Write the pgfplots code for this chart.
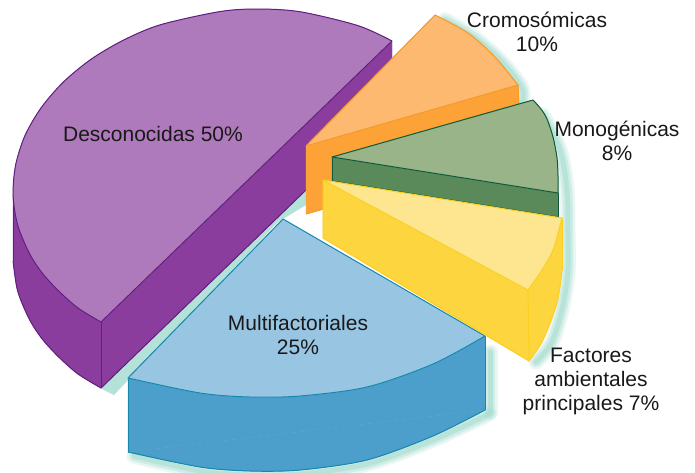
\documentclass[border=0pt]{standalone}
\usepackage{pgfplots}
\pgfplotsset{compat=1.18}
\usepackage{fontspec}
\setmainfont{Liberation Sans}
\definecolor{pt}{HTML}{AF7ABB}\definecolor{ps}{HTML}{8A3D9C}\definecolor{pe}{HTML}{5F1F80}
\definecolor{ot}{HTML}{FDB96F}\definecolor{os}{HTML}{FDA236}\definecolor{oe}{HTML}{F39A2B}
\definecolor{gt}{HTML}{98B488}\definecolor{gs}{HTML}{5A8A5A}\definecolor{ge}{HTML}{0E5A3A}
\definecolor{yt}{HTML}{FDE68F}\definecolor{ys}{HTML}{FDD63F}\definecolor{ye}{HTML}{FBCF20}
\definecolor{bt}{HTML}{98C6E2}\definecolor{bs}{HTML}{4C9ECB}\definecolor{be}{HTML}{1688B0}
\definecolor{sh}{HTML}{A8DDD2}
% fill, edge, arc coordinates, straight coordinates
\newcommand\face[4]{%
  \addplot[smooth,fill=#1,draw=#1,line width=.3pt] coordinates {#3} --cycle;
  \addplot[fill=#1,draw=#1,line width=.3pt] coordinates {#4} --cycle;
  \addplot[smooth,draw=#2,line width=1pt] coordinates {#3};
  \addplot[draw=#2,line width=1pt] coordinates {#4};
}
% fill, edge, arc coordinates, polygon coordinates: outlines are drawn apart
\newcommand\side[4]{%
  \addplot[smooth,fill=#1,draw=#1,line width=.3pt] coordinates {#3} --cycle;
  \addplot[fill=#1,draw=#1,line width=.3pt] coordinates {#4} --cycle;
  \addplot[smooth,draw=#2,line width=1pt] coordinates {#3};
}
\newcommand\edge[2]{\addplot[draw=#1,line width=1pt] coordinates {#2};}
\newcommand\shadow[1]{%
  \addplot[smooth,draw=sh,line width=15pt,opacity=.25,line cap=round] coordinates {#1};
  \addplot[smooth,draw=sh,line width=10pt,opacity=.4,line cap=round] coordinates {#1};
  \addplot[smooth,draw=sh,line width=5pt,opacity=.6,line cap=round] coordinates {#1};
}
\begin{document}
\begin{tikzpicture}
\begin{axis}[at={(0,0)},anchor=south west,width=695pt,height=472pt,scale only axis,
  xmin=0,xmax=695,ymin=0,ymax=472,y dir=reverse,hide axis,no marks,
  every axis plot/.append style={line join=round}]
\addplot[fill=white,draw=none] coordinates {(0,0)(695,0)(695,472)(0,472)} --cycle;
% shadows
\shadow{(134,456)(200,471)(250,475)(300,474)(367,464)(433,440)(489,414)}
\shadow{(490,352)(490,380)(490,412)}
\shadow{(536,362)(552,342)(563,305)(568,270)(568,235)(567,190)(560,150)(543,115)}
\shadow{(445,20)(475,38)(502,62)(522,88)(522,104)}
\addplot[fill=sh,draw=none,opacity=.85] coordinates {(100,388)(114,395)(130,378)(278,222)(306,205)(306,185)} --cycle;
% purple
\side{ps}{pe}{(13.1,261)(17.6,290.8)(29.2,319)(42.2,339)(58.7,357)(78,374)(101,388)}{(13.1,195)(13.1,261)(101,388)(392,107)(392,41)}
\edge{pe}{(13.1,195)(13.1,261)}
\edge{pe}{(101,388)(392,107)}
\face{pt}{pe}{(392,41)(358.2,25.7)(301,11.9)(259,9)(220.3,11.5)(161,24.6)(124.7,39.5)(92,58.6)(63.9,81.5)(41.4,107.4)(25,135.5)(15.6,165.1)(13.1,195)(17.6,224.8)(29.2,253)(42.2,273)(58.7,291)(78,308)(101,322)}{(392,41)(101,322)}
\edge{pe}{(101,322)(101,388)}
% orange
\side{os}{oe}{(306,214)(518,153)}{(306,146)(518,85)(519,103)(519,153)(306,214)}
\edge{oe}{(518,85)(519,103)}
\face{ot}{oe}{(435,15)(468,33)(495,57)(518,85)}{(518,85)(306,146)(435,15)}
% green
\side{gs}{ge}{(332,181)(558,217)}{(332,157)(558,193)(558,217)(332,181)}
\edge{ge}{(558,193)(558,217)}
\edge{ge}{(332,157)(332,181)}
\face{gt}{ge}{(533,100)(541,109)(547,119)(553,137)(557,158)(558,176)(558,193)}{(558,193)(332,157)(533,100)}
% blue
\side{bs}{be}{(128,452)(200,467)(250,471)(300,470)(367,460)(433,436)(485,410)}{(128,378)(128,452)(485,410)(485,336)}
\edge{be}{(128,378)(128,452)}
\edge{be}{(485,336)(485,410)}
\face{bt}{be}{(128,378)(200,393)(250,397)(300,396)(367,387)(433,364)(485,336)}{(485,336)(283,219)(128,378)}
% yellow
\side{ys}{ye}{(562,270)(557,303)(543,340)(529,361)}{(562,218)(562,270)(529,361)(323,238)(323,180)(528,290)}
\edge{ye}{(562,218)(562,270)}
\edge{ye}{(529,361)(323,238)(323,180)}
\face{yt}{ye}{(562,218)(553,250)(540,273)(528,290)}{(528,290)(323,180)(562,218)}
\edge{ye}{(528,290)(529,361)}
% labels
\begin{scope}[every node/.style={font=\fontsize{21}{24}\selectfont,text=black!90,align=center,inner sep=0pt}]
\node at (axis cs:153,134) {Desconocidas 50\%};
\node at (axis cs:537,32) {Cromosómicas\\10\%};
\node at (axis cs:617,141) {Monogénicas\\8\%};
\node at (axis cs:298,335) {Multifactoriales\\25\%};
\node at (axis cs:591,381) {Factores\\ambientales\\principales 7\%};
\end{scope}
\end{axis}
\end{tikzpicture}
\end{document}
